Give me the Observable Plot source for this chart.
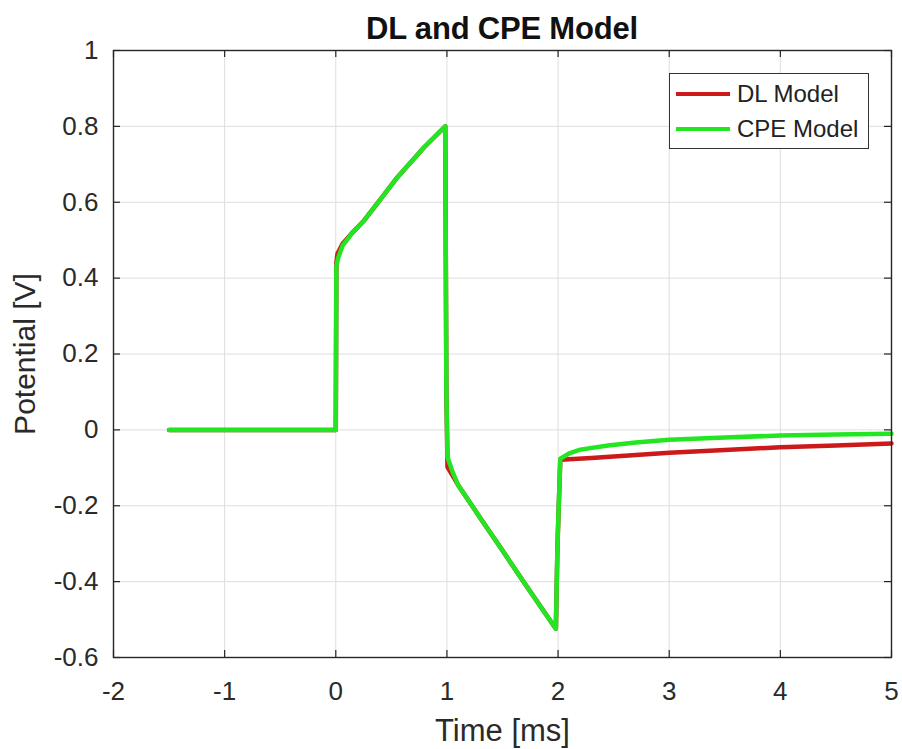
<!DOCTYPE html>
<html>
<head>
<meta charset="utf-8">
<script src="https://cdn.jsdelivr.net/npm/d3@7"></script>
<script src="https://cdn.jsdelivr.net/npm/@observablehq/plot@0.6"></script>
<style>
  body { margin: 0; background: #fff; font-family: "Liberation Sans", Arial, sans-serif; }
  #wrap { position: relative; width: 902px; height: 749px; overflow: hidden; }
  #title { position: absolute; left: 113px; width: 778px; top: 11px; text-align: center; font-weight: bold; font-size: 31px; line-height: 36px; color: #111; letter-spacing: -0.2px; }
  #chart { position: absolute; left: 0; top: 0; }
  #legend { position: absolute; left: 669px; top: 73px; width: 200px; height: 76px; border: 1px solid #333; background: #fff; box-sizing: border-box; }
  .item { position: absolute; left: 6px; display: flex; align-items: center; font-size: 24px; line-height: 28px; color: #222; }
  .sw { width: 54px; height: 4px; margin-right: 7px; }
</style>
</head>
<body>
<div id="wrap">
  <div id="chart"></div>
  <div id="title">DL and CPE Model</div>
  <div id="legend"></div>
</div>
<script>
const dlTime = [-1.5, 0, 0.005, 0.015, 0.06, 0.15, 0.255, 0.405, 0.555, 0.795, 0.985, 0.995, 1.005, 1.05, 1.1, 1.3, 1.5, 1.7, 1.98, 1.995, 2.02, 2.3, 2.6, 3.0, 3.5, 4.0, 4.5, 5.0];
const dlPotential = [0, 0, 0.44, 0.464, 0.49, 0.52, 0.552, 0.609, 0.666, 0.745, 0.80, 0.10, -0.098, -0.12, -0.145, -0.232, -0.318, -0.405, -0.524, -0.30, -0.079, -0.074, -0.068, -0.060, -0.053, -0.046, -0.041, -0.036];
const cpeTime = [-1.5, 0, 0.005, 0.02, 0.06, 0.15, 0.255, 0.405, 0.555, 0.795, 0.985, 0.995, 1.005, 1.05, 1.1, 1.3, 1.5, 1.7, 1.98, 1.995, 2.02, 2.1, 2.2, 2.45, 2.7, 3.0, 3.5, 4.0, 4.5, 5.0];
const cpePotential = [0, 0, 0.43, 0.452, 0.485, 0.52, 0.552, 0.609, 0.666, 0.745, 0.80, 0.10, -0.072, -0.11, -0.145, -0.232, -0.318, -0.405, -0.524, -0.30, -0.076, -0.062, -0.052, -0.041, -0.033, -0.026, -0.020, -0.015, -0.012, -0.010];
const seriesNames = ["DL Model", "CPE Model"];
const seriesColors = ["#cc1a1a", "#22e622"];
const xTicks = [-2, -1, 0, 1, 2, 3, 4, 5];
const yTicks = [-0.6, -0.4, -0.2, 0, 0.2, 0.4, 0.6, 0.8, 1];

const data = [
  ...dlTime.map((t, i) => ({t, v: dlPotential[i], s: seriesNames[0]})),
  ...cpeTime.map((t, i) => ({t, v: cpePotential[i], s: seriesNames[1]}))
];
const yFmt = d => d === 0 ? "0" : d === 1 ? "1" : d3.format(".1f")(d).replace("\u2212", "-");
const xFmt = d => String(d);
const ink = "#262626";

const chart = Plot.plot({
  width: 902,
  height: 749,
  marginLeft: 113,
  marginRight: 11,
  marginTop: 50,
  marginBottom: 92,
  style: { fontFamily: "Liberation Sans, Arial, sans-serif", background: "#fff", overflow: "visible" },
  x: { domain: [-2, 5] },
  y: { domain: [-0.6, 1] },
  color: { domain: seriesNames, range: seriesColors },
  marks: [
    Plot.gridX(xTicks, { stroke: "#dedede", strokeOpacity: 1, strokeWidth: 1 }),
    Plot.gridY(yTicks, { stroke: "#dedede", strokeOpacity: 1, strokeWidth: 1 }),
    Plot.line(data, { x: "t", y: "v", z: "s", stroke: "s", strokeWidth: 4.5, strokeLinejoin: "round" }),
    Plot.tickX(xTicks, { x: d => d, insetTop: 600, stroke: ink, strokeWidth: 1.2 }),
    Plot.tickX(xTicks, { x: d => d, insetBottom: 600, stroke: ink, strokeWidth: 1.2 }),
    Plot.tickY(yTicks, { y: d => d, insetRight: 771, stroke: ink, strokeWidth: 1.2 }),
    Plot.tickY(yTicks, { y: d => d, insetLeft: 771, stroke: ink, strokeWidth: 1.2 }),
    Plot.frame({ stroke: ink, strokeWidth: 1.4 }),
    Plot.axisX(xTicks, { anchor: "bottom", tickSize: 0, tickPadding: 24, tickFormat: xFmt, fontSize: 26, fill: "#2a2a2a", label: null }),
    Plot.axisY(yTicks, { anchor: "left", tickSize: 0, tickPadding: 15, tickFormat: yFmt, fontSize: 26, fill: "#2a2a2a", label: null }),
    Plot.text(["Time [ms]"], { frameAnchor: "bottom", lineAnchor: "middle", dy: 74, fontSize: 31, fill: "#2a2a2a" }),
    Plot.text(["Potential [V]"], { frameAnchor: "left", textAnchor: "middle", lineAnchor: "middle", dx: -88, rotate: -90, fontSize: 30, fill: "#2a2a2a" })
  ]
});
document.getElementById("chart").appendChild(chart);

const legend = document.getElementById("legend");
seriesNames.forEach((n, i) => {
  const it = document.createElement("div");
  it.className = "item";
  it.style.top = (i === 0 ? 6 : 41) + "px";
  it.innerHTML = `<div class="sw" style="background:${seriesColors[i]}"></div><span>${n}</span>`;
  legend.appendChild(it);
});
</script>
</body>
</html>
